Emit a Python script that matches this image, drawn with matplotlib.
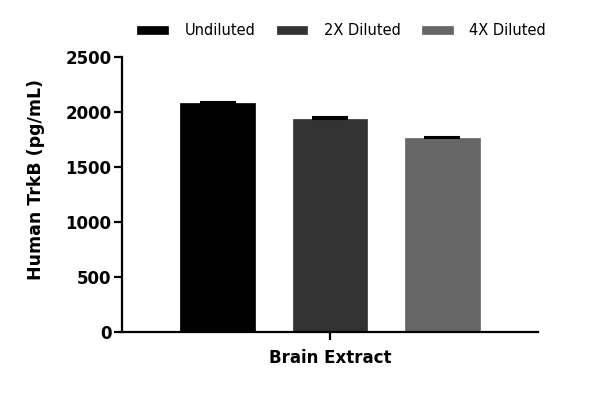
import matplotlib
matplotlib.use("Agg")
import matplotlib.pyplot as plt
import numpy as np

plt.rcParams['font.family'] = ['DejaVu Sans']

series = ['Undiluted', '2X Diluted', '4X Diluted']
values = [2080, 1938, 1762]
errors = [9, 13, 15]
colors = ['#000000', '#333333', '#666666']
category = 'Brain Extract'
yticks = [0, 500, 1000, 1500, 2000, 2500]

fig = plt.figure(figsize=(6, 3.93), dpi=100)
ax = fig.add_axes([0.2033, 0.1552, 0.6934, 0.6998])

x = np.arange(len(series))
for i in range(len(series)):
    ax.bar(x[i], values[i], width=0.667, color=colors[i], label=series[i],
           edgecolor=colors[i], linewidth=0.5, zorder=2)
    ax.errorbar(x[i], values[i], yerr=[[0], [errors[i]]], fmt='none',
                ecolor='black', elinewidth=1.2, capsize=13.3, capthick=1.5, zorder=3)

ax.set_xlim(-0.85, 2.85)
ax.set_ylim(0, 2500)
ax.set_yticks(yticks)
ax.set_yticklabels([str(t) for t in yticks], fontsize=12, fontweight='bold')
ax.set_xticks([1])
ax.set_xticklabels([category], fontsize=12, fontweight='bold')
ax.set_ylabel('Human TrkB (pg/mL)', fontsize=12.5, fontweight='bold')
ax.yaxis.set_label_coords(-0.185, 0.553)

for s in ['top', 'right']:
    ax.spines[s].set_visible(False)
for s in ['left', 'bottom']:
    ax.spines[s].set_linewidth(1.6)
ax.tick_params(axis='both', width=1.6, length=6, pad=1.5)
ax.tick_params(axis='x', pad=6)

ax.legend(loc='center', bbox_to_anchor=(0.528, 1.095), ncol=3, frameon=False,
          fontsize=10.5, handlelength=2.1, handleheight=0.5, columnspacing=1.45,
          handletextpad=1.15)

fig.savefig('out.png', dpi=100)
